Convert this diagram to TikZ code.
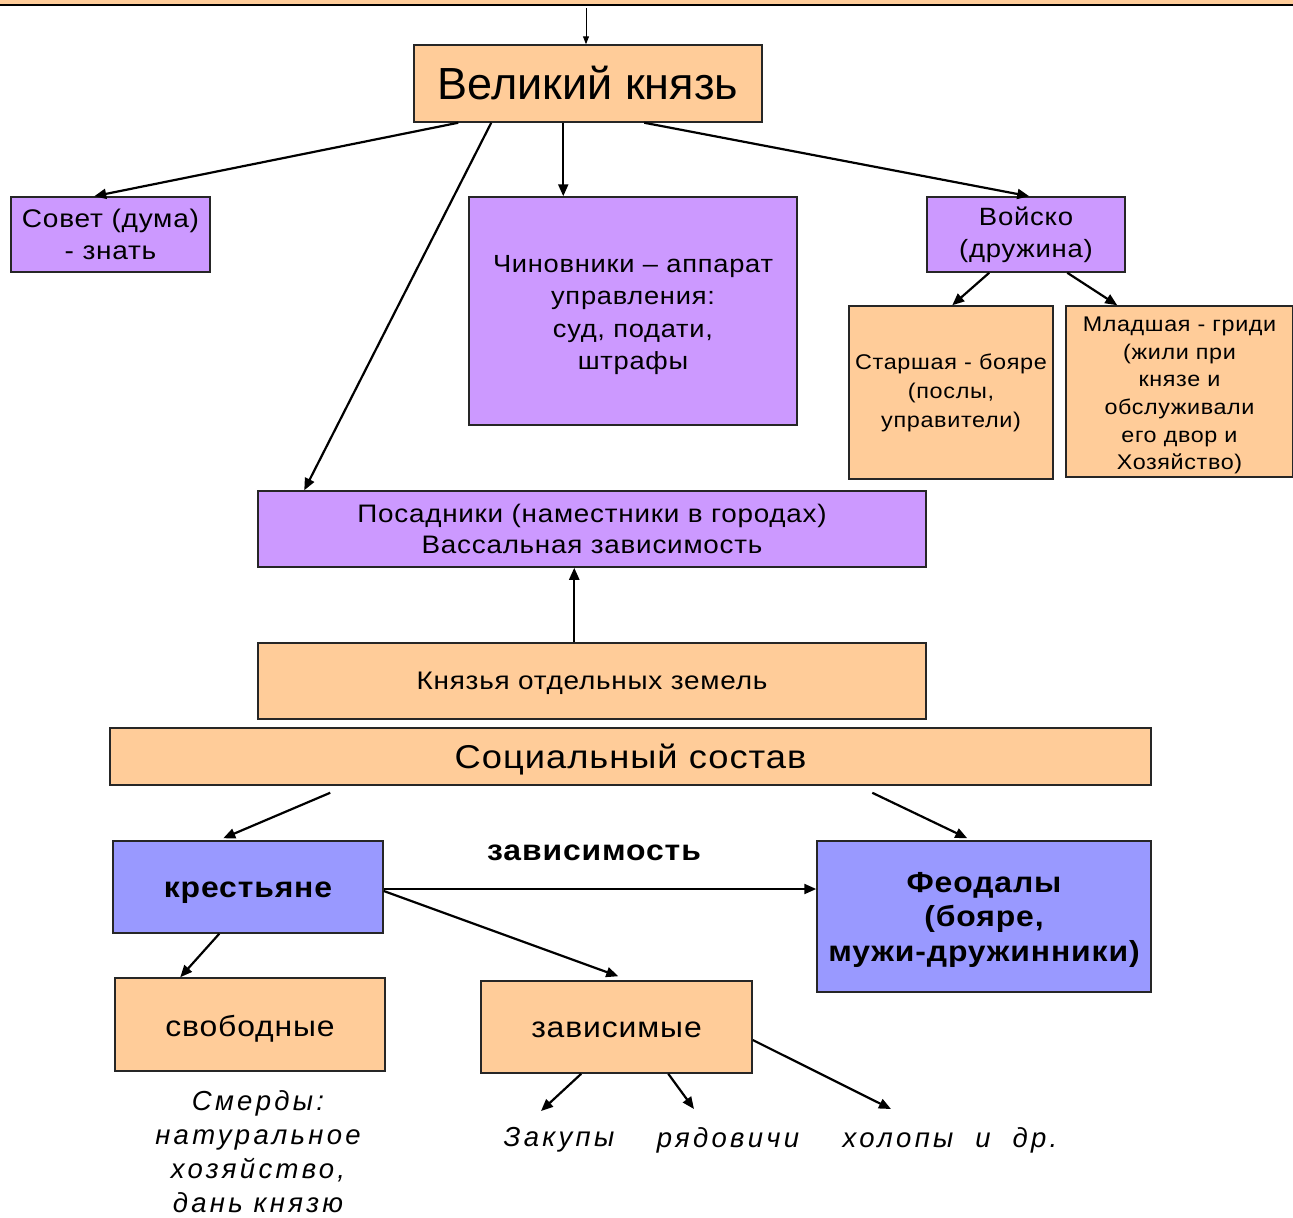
\documentclass[tikz,border=0pt]{standalone}
\usepackage{fontspec}
\setmainfont{Liberation Sans}[FakeStretch=1.1, LetterSpace=3]
\newfontfamily\bigfont{Liberation Sans}
\newfontfamily\itfam{Liberation Sans}[LetterSpace=12]
\usetikzlibrary{arrows.meta,calc}
\definecolor{peach}{HTML}{FFCC99}
\definecolor{lilac}{HTML}{CC99FF}
\definecolor{blueish}{HTML}{9999FF}
\newcommand{\fs}[2]{\fontsize{#1}{#2}\selectfont}
\newcommand{\lowr}[2]{\raisebox{-#1}[\height][\depth]{#2}}
\tikzset{
  box/.style={draw=black!85, line width=1.5pt, inner sep=0pt, align=center},
  pbox/.style={box, fill=peach},
  lbox/.style={box, fill=lilac},
  bbox/.style={box, fill=blueish},
  arr/.style={line width=2.2pt, -{Triangle[length=12pt,width=10pt]}},
  itx/.style={inner sep=0pt, align=center, font=\itfam\itshape\fs{27.5}{34}}
}
\begin{document}
\begin{tikzpicture}[x=1pt,y=-1pt]
\useasboundingbox (0,0) rectangle (1293,1218);
% top band
\fill[peach] (0,0) rectangle (1293,4);
\draw[line width=2.8pt] (0,5) -- (1293,5);
\coordinate (topin) at (586,8);

\node[pbox, minimum width=348pt, minimum height=77pt, font=\bigfont\fs{45}{50}] (vk) at (588,83.5) {Великий князь};
\node[lbox, minimum width=199pt, minimum height=75pt, font=\fs{25.5}{32}] (sovet) at (110.5,234.5) {Совет (дума)\\- знать};
\node[lbox, minimum width=328pt, minimum height=228pt, font=\fs{24.8}{32.5}] (chin) at (633,311) {\lowr{4pt}{Чиновники – аппарат}\\\lowr{4pt}{управления:}\\\lowr{4pt}{суд, подати,}\\\lowr{4pt}{штрафы}};
\node[lbox, minimum width=198pt, minimum height=75pt, font=\fs{25}{32}] (voisko) at (1026,234.5) {Войско\\(дружина)};
\node[pbox, minimum width=204pt, minimum height=173pt, font=\fs{21.3}{29}] (star) at (951,392.5) {Старшая - бояре\\(послы,\\управители)};
\node[pbox, minimum width=227pt, minimum height=171pt, font=\fs{21.2}{27.6}] (mlad) at (1179.5,391.5) {\lowr{4pt}{Младшая - гриди}\\\lowr{4pt}{(жили при}\\\lowr{4pt}{князе и}\\\lowr{4pt}{обслуживали}\\\lowr{4pt}{его двор и}\\\lowr{4pt}{Хозяйство)}};
\node[lbox, minimum width=668pt, minimum height=76pt, font=\fs{25.3}{31}] (posad) at (592,529) {Посадники (наместники в городах)\\Вассальная зависимость};
\node[pbox, minimum width=668pt, minimum height=76pt, font=\fs{25.4}{31}] (knyaz) at (592,681) {\lowr{2pt}{Князья отдельных земель}};
\node[pbox, minimum width=1041pt, minimum height=57pt, font=\fs{33}{38}] (soc) at (630.5,756.5) {\lowr{3pt}{Социальный состав}};
\node[bbox, minimum width=270pt, minimum height=92pt, font=\bfseries\fs{29}{34}] (krest) at (248,887) {\lowr{6pt}{крестьяне}};
\node[bbox, minimum width=334pt, minimum height=151pt, font=\bfseries\fs{29}{34.5}] (feod) at (984,916.5) {\lowr{3pt}{Феодалы}\\\lowr{3pt}{(бояре,}\\\lowr{3pt}{мужи-дружинники)}};
\node[pbox, minimum width=270pt, minimum height=93pt, font=\fs{29}{34}] (svob) at (250,1024.5) {\lowr{4pt}{свободные}};
\node[pbox, minimum width=271pt, minimum height=92pt, font=\fs{29}{34}] (zav) at (616.5,1027) {\lowr{3pt}{зависимые}};

\node[inner sep=0pt, font=\bfseries\fs{29}{34}] (zavlabel) at (594,853) {зависимость};

\node[itx] (smerdy) at (258,1152) {Смерды:\\натуральное\\хозяйство,\\дань князю};
\node[itx] (zakupy) at (559,1140) {Закупы};
\node[itx] (ryad) at (728,1140) {рядовичи};
\node[itx] (holopy) at (950,1140) {холопы\ \ и\ \ др.};
\coordinate (zkend) at (541,1111);
\coordinate (rdend) at (694,1109);
\coordinate (hlend) at (891,1109);

% arrows
\draw[line width=1pt, -{Triangle[length=8pt,width=6pt]}] (topin) -- (vk.north -| topin);
\draw[arr] ([xshift=45pt]vk.south west) -- ([xshift=84pt]sovet.north west);
\draw[arr] ([xshift=78pt]vk.south west) -- ([xshift=47pt]posad.north west);
\draw[arr] ([xshift=150pt]vk.south west) -- ([xshift=95pt]chin.north west);
\draw[arr] ([xshift=231pt]vk.south west) -- ([xshift=103pt]voisko.north west);
\draw[arr] ([xshift=63pt]voisko.south west) -- ([xshift=104pt]star.north west);
\draw[arr] ([xshift=141pt]voisko.south west) -- ([xshift=52pt]mlad.north west);
\draw[arr] ([xshift=317pt]knyaz.north west) -- ([xshift=317pt]posad.south west);
\draw[arr] ([xshift=221pt,yshift=-7pt]soc.south west) -- ([xshift=111pt,yshift=2pt]krest.north west);
\draw[arr] ([xshift=763pt,yshift=-7pt]soc.south west) -- ([xshift=151pt,yshift=2pt]feod.north west);
\draw[arr] ([yshift=-2pt]krest.east) -- ([yshift=-2pt]krest.east -| feod.west);
\draw[arr] ([yshift=-4pt]krest.east) -- ([xshift=138pt,yshift=4pt]zav.north west);
\draw[arr] ([xshift=107pt]krest.south west) -- ([xshift=66pt]svob.north west);
\draw[arr] ([xshift=101pt]zav.south west) -- (zkend);
\draw[arr] ([xshift=188pt]zav.south west) -- (rdend);
\draw[arr] ([yshift=-13pt]zav.east) -- (hlend);
\end{tikzpicture}
\end{document}
